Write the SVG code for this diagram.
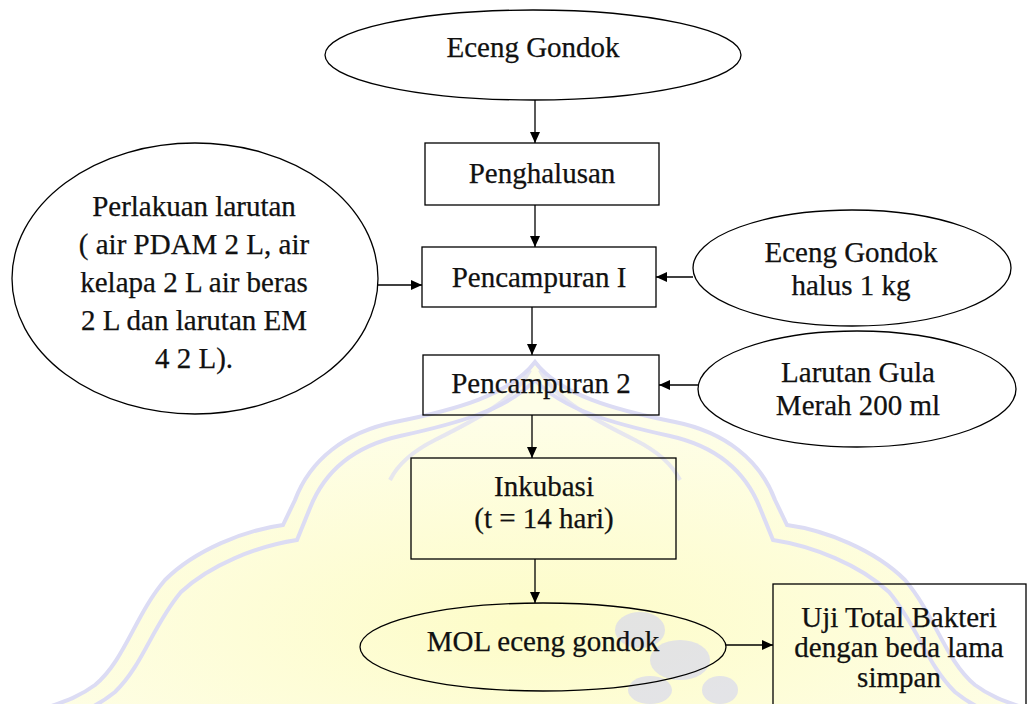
<svg xmlns="http://www.w3.org/2000/svg" width="1032" height="704" viewBox="0 0 1032 704">
<style>
.n{fill:none;stroke:#000;stroke-width:1.3}
.t{font-family:'Liberation Serif','DejaVu Serif',serif;font-size:29px;fill:#111;stroke:#111;stroke-width:0.25;text-anchor:middle}
.c{stroke:#000;stroke-width:1.3;fill:none;marker-end:url(#ah)}
.wm{fill:none;stroke:#dcdcf4;stroke-width:4}
</style>
<defs>
<marker id="ah" markerUnits="userSpaceOnUse" markerWidth="12" markerHeight="10" refX="11" refY="5" orient="auto">
<path d="M0,0 L11,5 L0,10 z" fill="#000"/>
</marker>
<radialGradient id="wmg" cx="0.5" cy="0.75" r="0.6">
<stop offset="0" stop-color="#fdfcc8"/>
<stop offset="1" stop-color="#fefee8"/>
</radialGradient>
</defs>
<rect width="1032" height="704" fill="#fff"/>
<g id="watermark">
<path d="M535,362 C510,395 455,410 395,422 C345,432 310,460 295,500 L283,525 C245,530 195,550 165,580 C135,615 125,660 95,685 C75,700 55,704 35,712 L1035,712 C1015,704 995,700 975,685 C945,660 935,615 905,580 C875,550 825,530 787,525 L775,500 C760,460 725,432 675,422 C615,410 560,395 535,362 Z" fill="url(#wmg)" stroke="#dcdcf4" stroke-width="4"/>
<path class="wm" d="M535,380 C507,410 455,424 400,436 C355,446 325,470 310,508 L297,540 C257,546 210,565 181,592 C153,625 143,665 115,692 C100,704 90,708 80,712"/>
<path class="wm" d="M535,380 C563,410 615,424 670,436 C715,446 745,470 760,508 L773,540 C813,546 860,565 889,592 C917,625 927,665 955,692 C970,704 980,708 990,712"/>
<path class="wm" d="M530,370 C515,400 475,420 435,440 C405,455 395,470 390,480" opacity="0.7"/>
<path class="wm" d="M540,370 C555,400 595,420 635,440 C665,455 675,470 680,480" opacity="0.7"/>
<g fill="#cfd0f5" opacity="0.55">
<ellipse cx="640" cy="630" rx="25" ry="18"/>
<ellipse cx="680" cy="660" rx="30" ry="20"/>
<ellipse cx="650" cy="690" rx="22" ry="14"/>
<ellipse cx="720" cy="690" rx="18" ry="14"/>
</g>
</g>
<g id="connectors">
<line class="c" x1="535" y1="100" x2="535" y2="143"/>
<line class="c" x1="535" y1="205" x2="535" y2="247"/>
<line class="c" x1="378" y1="285" x2="422" y2="285"/>
<line class="c" x1="693" y1="277" x2="656" y2="277"/>
<line class="c" x1="532" y1="307" x2="532" y2="355"/>
<line class="c" x1="698" y1="385" x2="659" y2="385"/>
<line class="c" x1="532" y1="415" x2="532" y2="458"/>
<line class="c" x1="535" y1="559" x2="535" y2="603"/>
<line class="c" x1="726" y1="645" x2="773" y2="645"/>
</g>
<g id="eceng-gondok">
<ellipse class="n" cx="533" cy="55" rx="208" ry="45"/>
<text class="t" x="533" y="57">Eceng Gondok</text>
</g>
<g id="penghalusan">
<rect class="n" x="425" y="143" width="234" height="62"/>
<text class="t" x="542" y="183">Penghalusan</text>
</g>
<g id="perlakuan">
<ellipse class="n" cx="195" cy="278.5" rx="183" ry="135.5"/>
<text class="t" x="194" y="216">Perlakuan larutan</text>
<text class="t" x="194" y="254">( air PDAM 2 L, air</text>
<text class="t" x="194" y="292">kelapa 2 L air beras</text>
<text class="t" x="194" y="330">2 L dan larutan EM</text>
<text class="t" x="194" y="368">4 2 L).</text>
</g>
<g id="pencampuran-1">
<rect class="n" x="422" y="247" width="234" height="60"/>
<text class="t" x="539" y="287">Pencampuran I</text>
</g>
<g id="eceng-halus">
<ellipse class="n" cx="852" cy="268" rx="159" ry="58"/>
<text class="t" x="851" y="262">Eceng Gondok</text>
<text class="t" x="851" y="295">halus 1 kg</text>
</g>
<g id="pencampuran-2">
<rect class="n" x="423" y="355" width="236" height="60"/>
<text class="t" x="541" y="393">Pencampuran 2</text>
</g>
<g id="larutan-gula">
<ellipse class="n" cx="857" cy="389" rx="159" ry="58"/>
<text class="t" x="858" y="382">Larutan Gula</text>
<text class="t" x="858" y="415">Merah 200 ml</text>
</g>
<g id="inkubasi">
<rect class="n" x="411" y="458" width="265" height="101"/>
<text class="t" x="544" y="496">Inkubasi</text>
<text class="t" x="544" y="528">(t = 14 hari)</text>
</g>
<g id="mol">
<ellipse class="n" cx="543" cy="647" rx="183" ry="44"/>
<text class="t" x="543" y="651">MOL eceng gondok</text>
</g>
<g id="uji">
<rect class="n" x="773" y="584" width="253" height="140"/>
<text class="t" x="899" y="627">Uji Total Bakteri</text>
<text class="t" x="899" y="657">dengan beda lama</text>
<text class="t" x="899" y="687">simpan</text>
</g>
</svg>
